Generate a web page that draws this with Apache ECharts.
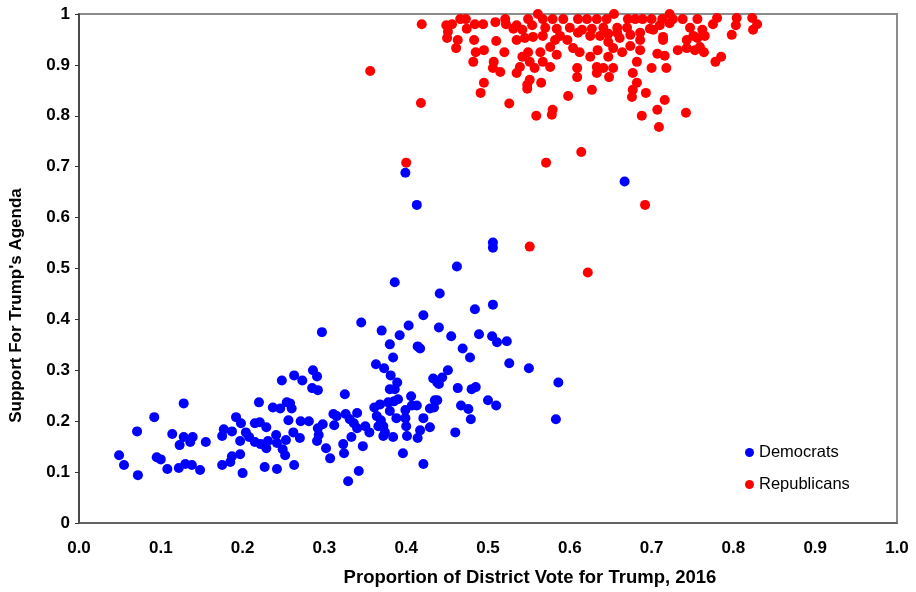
<!DOCTYPE html>
<html><head><meta charset="utf-8">
<script src="https://cdn.jsdelivr.net/npm/echarts@6/dist/echarts.min.js"></script>
<style>html,body{margin:0;padding:0;background:#fff}#c{width:916px;height:592px}</style>
</head><body><div id="c"></div>
<script>
var seriesNames = ["Democrats", "Republicans"];
var xTicks = [0, 0.1, 0.2, 0.3, 0.4, 0.5, 0.6, 0.7, 0.8, 0.9, 1.0];
var yTicks = [0, 0.1, 0.2, 0.3, 0.4, 0.5, 0.6, 0.7, 0.8, 0.9, 1];
var xTitle = "Proportion of District Vote for Trump, 2016";
var yTitle = "Support For Trump's Agenda";

var democrats = [
[0.128,0.235],[0.092,0.208],[0.071,0.180],[0.114,0.175],[0.128,0.169],[0.139,0.169],[0.136,0.159],[0.123,0.153],[0.155,0.159],[0.049,0.133],
[0.055,0.114],[0.072,0.094],[0.095,0.129],[0.100,0.125],[0.108,0.106],[0.122,0.108],[0.130,0.116],[0.138,0.114],[0.148,0.104],[0.175,0.114],
[0.185,0.120],[0.187,0.131],[0.197,0.135],[0.200,0.098],[0.175,0.171],[0.177,0.184],[0.187,0.180],[0.192,0.208],[0.198,0.196],[0.197,0.161],
[0.204,0.178],[0.208,0.169],[0.215,0.196],[0.220,0.237],[0.215,0.159],
[0.380,0.351],[0.414,0.347],[0.417,0.343],[0.384,0.325],[0.363,0.312],[0.373,0.304],[0.286,0.300],[0.291,0.288],[0.263,0.290],[0.273,0.280],
[0.248,0.280],[0.381,0.290],[0.389,0.276],[0.433,0.284],[0.438,0.276],[0.380,0.263],[0.386,0.263],[0.285,0.265],[0.292,0.261],[0.325,0.253],
[0.254,0.237],[0.258,0.235],[0.237,0.227],[0.246,0.225],[0.260,0.225],[0.406,0.249],[0.390,0.243],[0.385,0.239],[0.378,0.237],[0.368,0.233],
[0.361,0.227],[0.380,0.220],[0.399,0.222],[0.407,0.231],[0.413,0.231],[0.429,0.225],[0.435,0.241],[0.256,0.202],[0.271,0.200],[0.281,0.200],
[0.221,0.198],[0.229,0.188],[0.311,0.214],[0.315,0.210],[0.326,0.214],[0.340,0.216],[0.331,0.204],[0.336,0.196],[0.340,0.186],[0.350,0.190],
[0.355,0.178],[0.364,0.210],[0.369,0.202],[0.366,0.190],[0.372,0.190],[0.374,0.178],[0.388,0.206],[0.399,0.206],[0.400,0.190],[0.421,0.206],
[0.429,0.188],[0.417,0.182],[0.401,0.171],[0.384,0.169],[0.372,0.171],[0.414,0.167],[0.298,0.194],[0.312,0.192],[0.292,0.186],[0.293,0.173],
[0.262,0.178],[0.270,0.167],[0.241,0.173],[0.222,0.155],[0.231,0.161],[0.229,0.147],[0.242,0.157],[0.253,0.163],[0.249,0.145],[0.252,0.133],
[0.291,0.161],[0.302,0.147],[0.307,0.127],[0.324,0.137],[0.323,0.155],[0.333,0.169],[0.347,0.151],[0.396,0.137],[0.421,0.116],[0.227,0.110],
[0.242,0.106],[0.263,0.114],[0.342,0.102],[0.329,0.082],
[0.506,0.551],[0.506,0.541],[0.462,0.504],[0.386,0.473],[0.441,0.451],[0.484,0.420],[0.506,0.429],[0.345,0.394],[0.421,0.408],[0.403,0.388],
[0.370,0.378],[0.440,0.384],[0.392,0.369],[0.455,0.367],[0.489,0.371],[0.505,0.367],[0.511,0.355],[0.523,0.357],[0.469,0.343],[0.478,0.325],
[0.526,0.314],[0.550,0.304],[0.586,0.276],[0.451,0.300],[0.444,0.286],[0.440,0.273],[0.463,0.265],[0.480,0.263],[0.485,0.267],[0.500,0.241],
[0.510,0.231],[0.467,0.231],[0.476,0.224],[0.438,0.241],[0.434,0.227],[0.479,0.204],[0.583,0.204],[0.460,0.178],[0.399,0.688],[0.413,0.625],
[0.667,0.671],[0.297,0.375]
];

var republicans = [
[0.400,0.708],[0.571,0.708],[0.614,0.729],[0.692,0.625],[0.551,0.543],[0.622,0.492],[0.709,0.778],[0.356,0.888],[0.418,0.825],[0.419,0.980],
[0.449,0.978],[0.456,0.980],[0.466,0.990],[0.473,0.990],[0.451,0.965],[0.450,0.953],[0.463,0.949],[0.461,0.933],[0.474,0.971],[0.484,0.980],
[0.494,0.980],[0.483,0.949],[0.509,0.984],[0.510,0.947],[0.485,0.925],[0.495,0.929],[0.520,0.925],[0.482,0.906],[0.507,0.906],[0.506,0.894],
[0.515,0.886],[0.495,0.865],[0.491,0.845],[0.526,0.824],[0.559,0.800],[0.521,0.990],[0.522,0.980],[0.531,0.971],[0.535,0.978],[0.542,0.969],
[0.535,0.949],[0.545,0.953],[0.549,0.990],[0.554,0.978],[0.555,0.955],[0.549,0.925],[0.542,0.916],[0.551,0.906],[0.557,0.894],[0.539,0.896],
[0.535,0.884],[0.551,0.871],[0.548,0.861],[0.548,0.853],
[0.561,1.000],[0.567,0.990],[0.579,0.990],[0.592,0.990],[0.610,0.990],[0.621,0.990],[0.633,0.990],[0.645,0.990],[0.654,1.000],[0.671,0.990],
[0.680,0.990],[0.689,0.990],[0.700,0.990],[0.713,0.990],[0.722,1.000],[0.726,0.990],[0.738,0.990],[0.756,0.990],
[0.570,0.973],[0.584,0.971],[0.600,0.973],[0.615,0.969],[0.627,0.971],[0.641,0.973],[0.658,0.973],[0.670,0.973],[0.698,0.971],[0.710,0.978],
[0.722,0.982],[0.747,0.973],
[0.567,0.957],[0.588,0.957],[0.610,0.963],[0.625,0.957],[0.637,0.957],[0.647,0.961],[0.658,0.963],[0.674,0.959],[0.686,0.963],[0.702,0.969],
[0.714,0.955],[0.751,0.957],
[0.582,0.949],[0.597,0.949],[0.647,0.945],[0.661,0.953],[0.686,0.949],[0.714,0.949],[0.743,0.949],[0.756,0.953],
[0.564,0.925],[0.576,0.935],[0.584,0.920],[0.604,0.933],[0.612,0.925],[0.625,0.916],[0.634,0.929],[0.647,0.916],[0.653,0.933],[0.664,0.925],
[0.674,0.937],[0.686,0.929],[0.707,0.922],[0.716,0.918],[0.732,0.929],[0.743,0.933],[0.753,0.929],
[0.567,0.906],[0.576,0.896],[0.609,0.894],[0.633,0.896],[0.641,0.894],[0.653,0.894],[0.682,0.906],[0.700,0.894],[0.718,0.894],
[0.609,0.876],[0.633,0.884],[0.648,0.876],[0.677,0.884],
[0.565,0.865],[0.682,0.865],[0.677,0.851],
[0.598,0.839],[0.627,0.851],[0.676,0.837],[0.693,0.845],[0.716,0.831],
[0.578,0.802],[0.579,0.812],[0.688,0.800],[0.707,0.812],[0.742,0.806],
[0.780,0.992],[0.775,0.980],[0.804,0.992],[0.803,0.978],[0.823,0.992],[0.829,0.980],[0.824,0.969],[0.798,0.959],[0.762,0.969],[0.765,0.957],
[0.759,0.935],[0.764,0.925],[0.785,0.916],[0.778,0.906]
];

var FONT = '"Liberation Sans", Arial, sans-serif';
var chart = echarts.init(document.getElementById('c'), null, {renderer: 'canvas'});
chart.setOption({
  animation: false,
  backgroundColor: '#ffffff',
  grid: {left: 77, right: 19, top: 14, bottom: 68, show: true, borderColor: '#8c8c8c', borderWidth: 2, backgroundColor: 'transparent'},
  legend: {
    orient: 'vertical', left: 745, top: 444, itemGap: 15, padding: 0,
    itemWidth: 9, itemHeight: 9, icon: 'circle',
    textStyle: {fontFamily: FONT, fontSize: 16.5, color: '#000'},
    data: seriesNames
  },
  xAxis: {
    type: 'value', min: xTicks[0], max: xTicks[xTicks.length - 1], interval: 0.1,
    name: xTitle, nameLocation: 'middle', nameGap: 45,
    nameTextStyle: {fontFamily: FONT, fontSize: 18.5, fontWeight: 'bold', color: '#000', padding: [0, 0, 0, 84]},
    axisLine: {show: true, onZero: false, lineStyle: {color: '#555', width: 1.5}},
    axisTick: {show: false},
    splitLine: {show: false},
    axisLabel: {margin: 17, fontFamily: FONT, fontSize: 17, fontWeight: 'bold', color: '#000',
      formatter: function (v) { return v.toFixed(1); }}
  },
  yAxis: {
    type: 'value', min: yTicks[0], max: yTicks[yTicks.length - 1], interval: 0.1,
    name: yTitle, nameLocation: 'middle', nameGap: 54, nameRotate: 90,
    nameTextStyle: {fontFamily: FONT, fontSize: 17, fontWeight: 'bold', color: '#000', padding: [0, 74, 0, 0]},
    axisLine: {show: true, onZero: false, lineStyle: {color: '#333', width: 1.5}},
    axisTick: {show: true, length: 4, inside: false, lineStyle: {color: '#333'}},
    splitLine: {show: false},
    axisLabel: {margin: 9, fontFamily: FONT, fontSize: 17, fontWeight: 'bold', color: '#000',
      formatter: function (v) { return String(Math.round(v * 10) / 10); }}
  },
  series: [
    {name: seriesNames[0], type: 'scatter', data: democrats, symbolSize: 10,
      itemStyle: {color: '#0000ff', opacity: 1}},
    {name: seriesNames[1], type: 'scatter', data: republicans, symbolSize: 10,
      itemStyle: {color: '#ff0000', opacity: 1}}
  ]
});
</script></body></html>
